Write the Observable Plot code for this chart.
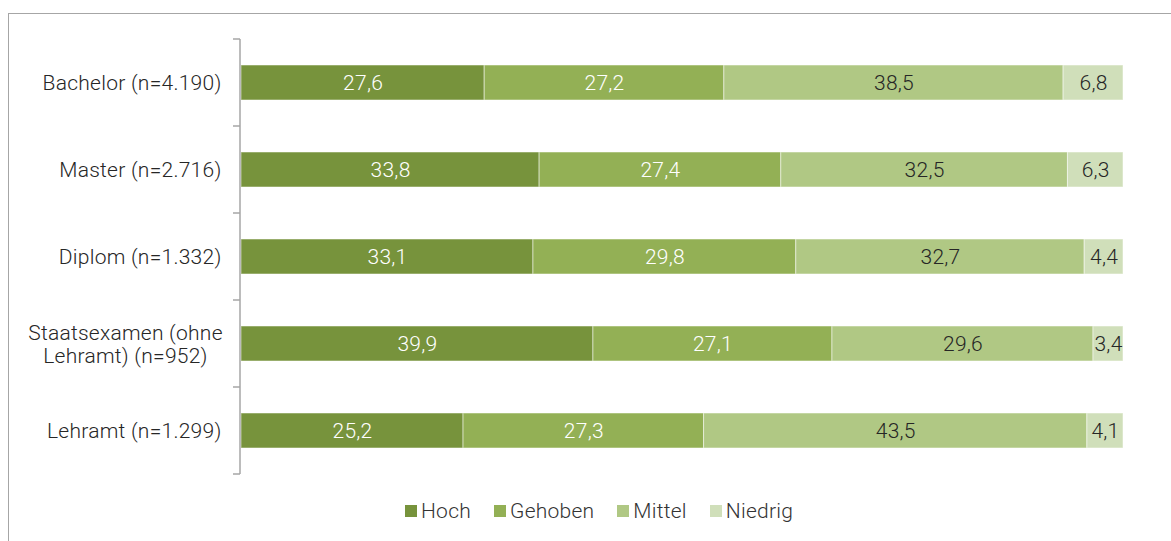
<!DOCTYPE html>
<html><head><meta charset="utf-8">
<script src="https://cdn.jsdelivr.net/npm/d3@7"></script>
<script src="https://cdn.jsdelivr.net/npm/@observablehq/plot@0.6"></script>
<style>
body{margin:0;background:#fff;font-family:Roboto,"Liberation Sans",sans-serif;font-weight:300;}
#frame{position:absolute;left:8px;top:13px;width:1300px;height:700px;border:1px solid #a6a6a6;}
#chart{position:absolute;left:0;top:0;}
#chart text{letter-spacing:0.25px;}
#legend{position:absolute;top:498px;left:405px;display:flex;align-items:center;font-size:21px;letter-spacing:0.25px;color:#333;white-space:nowrap;line-height:26px;}
#legend .item{display:flex;align-items:center;margin-right:23px;}
#legend .sw{width:12px;height:12px;margin-right:4px;}
</style></head>
<body><div id="frame"></div><div id="chart"></div><div id="legend"></div>
<script>
const categories = ["Bachelor (n=4.190)", "Master (n=2.716)", "Diplom (n=1.332)", "Staatsexamen (ohne\nLehramt) (n=952)", "Lehramt (n=1.299)"];
const levels = ["Hoch", "Gehoben", "Mittel", "Niedrig"];
const hoch = [27.6, 33.8, 33.1, 39.9, 25.2];
const gehoben = [27.2, 27.4, 29.8, 27.1, 27.3];
const mittel = [38.5, 32.5, 32.7, 29.6, 43.5];
const niedrig = [6.8, 6.3, 4.4, 3.4, 4.1];
const colors = ["#77933c", "#93b055", "#b0c884", "#d0dfba"];

const series = [hoch, gehoben, mittel, niedrig];
const data = [];
categories.forEach((cat, i) => levels.forEach((lv, j) => data.push({cat, level: lv, value: series[j][i], light: j < 2})));
const fmt = d => d3.format(".1f")(d).replace(".", ",");

const axisMark = (index, scales, values, dims) => {
  const y = scales.y, step = y.step(), bw = y.bandwidth();
  const pad = (step - bw) / 2;
  const x0 = dims.marginLeft - 1;
  const bounds = categories.map(c => y(c) - pad).concat([y(categories[categories.length - 1]) + bw + pad]);
  const g = d3.create("svg:g").attr("stroke", "#a6a6a6").attr("stroke-width", 1.5).attr("fill", "none");
  g.append("line").attr("x1", x0).attr("x2", x0).attr("y1", bounds[0]).attr("y2", bounds[bounds.length - 1]);
  for (const b of bounds) g.append("line").attr("x1", x0 - 7).attr("x2", x0).attr("y1", b).attr("y2", b);
  return g.node();
};

const plot = Plot.plot({
  width: 1171, height: 490,
  marginLeft: 241, marginRight: 48, marginTop: 37, marginBottom: 14,
  style: {fontFamily: "Roboto, 'Liberation Sans', sans-serif", fontSize: "21px", fontWeight: 300, background: "transparent"},
  x: {axis: null, domain: [0, 1]},
  y: {axis: null, domain: categories, paddingInner: 0.6, paddingOuter: 0.3},
  color: {domain: levels, range: colors},
  marks: [
    Plot.barX(data, Plot.stackX({x: "value", y: "cat", fill: "level", offset: "normalize", stroke: "#ffffff", strokeOpacity: 0.5, strokeWidth: 1})),
    Plot.text(data, Plot.stackX({x: "value", y: "cat", z: "level", offset: "normalize", text: d => d.light ? fmt(d.value) : "", fill: "#ffffff", fontSize: 21})),
    Plot.text(data, Plot.stackX({x: "value", y: "cat", z: "level", offset: "normalize", text: d => d.light ? "" : fmt(d.value), fill: "#262626", fontSize: 21})),
    Plot.text(categories.filter(c => !c.includes("\n")), {y: d => d, text: d => d, frameAnchor: "left", textAnchor: "end", dx: -20, fill: "#262626", fontSize: 21}),
    Plot.text(categories.filter(c => c.includes("\n")), {y: d => d, text: d => d, frameAnchor: "left", textAnchor: "middle", dx: -116, lineHeight: 1.1, fill: "#262626", fontSize: 21}),
    axisMark
  ]
});
document.getElementById("chart").appendChild(plot);

const legend = document.getElementById("legend");
levels.forEach((lv, j) => {
  const it = document.createElement("div"); it.className = "item";
  const sw = document.createElement("div"); sw.className = "sw"; sw.style.background = colors[j];
  const tx = document.createElement("span"); tx.textContent = lv;
  it.appendChild(sw); it.appendChild(tx); legend.appendChild(it);
});
</script>
</body></html>
